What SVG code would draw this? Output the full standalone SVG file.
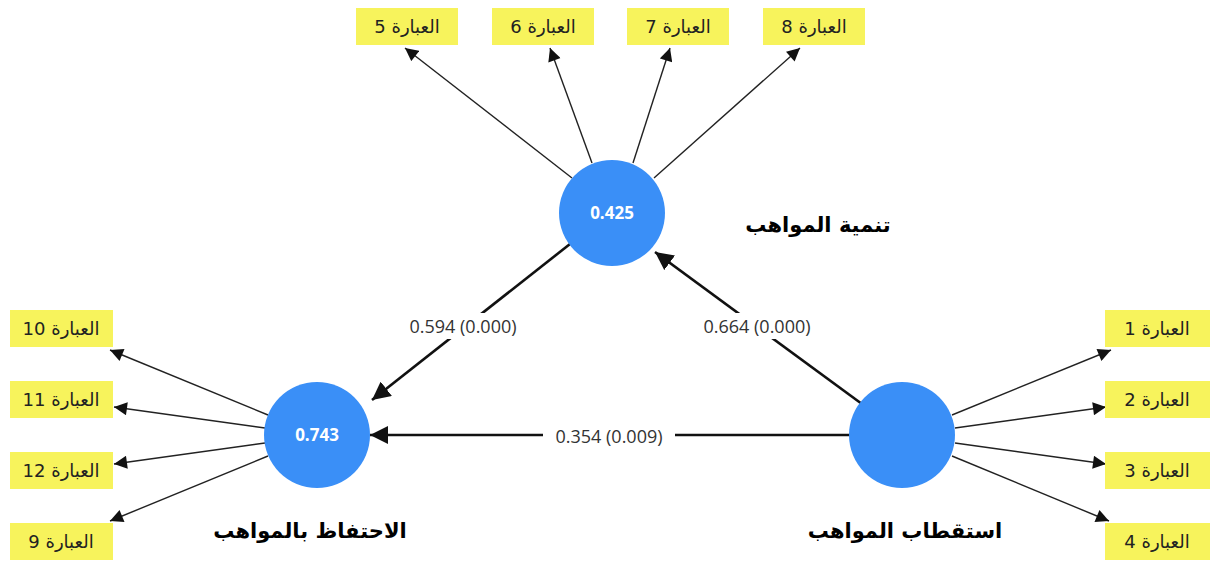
<svg xmlns="http://www.w3.org/2000/svg" width="1213" height="563" viewBox="0 0 1213 563">
<style>
.box rect{fill:#f7f35c}
.box text{font-family:"DejaVu Sans",sans-serif;font-size:18px;fill:#222;text-anchor:middle;direction:rtl}
.lv circle{fill:#3a8ff7}
.lv text.v{font-family:"Open Sans","DejaVu Sans",sans-serif;font-size:17px;font-weight:bold;fill:#fff;text-anchor:middle}
.name{font-family:"DejaVu Sans",sans-serif;font-size:21px;font-weight:bold;fill:#000;text-anchor:middle;direction:rtl}
.thin{stroke:#222;stroke-width:1.4;fill:none;marker-end:url(#ah)}
.thick{stroke:#111;stroke-width:2.6;fill:none;marker-end:url(#ahb)}
.el{font-family:"Open Sans","DejaVu Sans",sans-serif;font-size:18px;fill:#333;text-anchor:middle}
</style>
<defs>
<marker id="ah" viewBox="0 0 10 10" refX="10" refY="5" markerWidth="14" markerHeight="13" markerUnits="userSpaceOnUse" orient="auto"><path d="M0,0 L10,5 L0,10 z" fill="#111"/></marker>
<marker id="ahb" viewBox="0 0 10 10" refX="10" refY="5" markerWidth="7" markerHeight="7" orient="auto"><path d="M0,0 L10,5 L0,10 z" fill="#111"/></marker>
</defs>
<g id="connectors">
<line class="thin" x1="572" y1="178" x2="405" y2="48"/>
<line class="thin" x1="592" y1="163" x2="550" y2="48"/>
<line class="thin" x1="633" y1="163" x2="670" y2="48"/>
<line class="thin" x1="654" y1="178" x2="800" y2="48"/>
<line class="thin" x1="952" y1="415" x2="1111" y2="350"/>
<line class="thin" x1="955" y1="428" x2="1106" y2="407"/>
<line class="thin" x1="955" y1="443" x2="1106" y2="464"/>
<line class="thin" x1="952" y1="456" x2="1109" y2="521"/>
<line class="thin" x1="268" y1="415" x2="110" y2="350"/>
<line class="thin" x1="265" y1="428" x2="114" y2="407"/>
<line class="thin" x1="265" y1="443" x2="114" y2="464"/>
<line class="thin" x1="268" y1="456" x2="110" y2="521"/>
<line class="thick" x1="570" y1="244" x2="372" y2="400"/>
<line class="thick" x1="862" y1="404" x2="655" y2="252"/>
<line class="thick" x1="850" y1="435" x2="370" y2="435"/>
<rect x="398" y="313" width="130" height="26" fill="#fff"/>
<text class="el" x="463" y="333">0.594 (0.000)</text>
<rect x="692" y="313" width="130" height="26" fill="#fff"/>
<text class="el" x="757" y="333">0.664 (0.000)</text>
<rect x="543" y="424" width="132" height="26" fill="#fff"/>
<text class="el" x="609" y="443">0.354 (0.009)</text>
</g>
<g id="n-tanmiya" class="lv"><circle cx="612" cy="213" r="53"/><text class="v" x="612" y="219">0.425</text></g>
<g id="n-ihtifaz" class="lv"><circle cx="317" cy="435" r="53"/><text class="v" x="317" y="441">0.743</text></g>
<g id="n-istiqtab" class="lv"><circle cx="902" cy="435" r="53"/></g>
<text class="name" x="818" y="232">تنمية المواهب</text>
<text class="name" x="310" y="538">الاحتفاظ بالمواهب</text>
<text class="name" x="905" y="538">استقطاب المواهب</text>
<g id="b5" class="box"><rect x="356" y="8" width="102" height="37"/><text x="407" y="33">العبارة 5</text></g>
<g id="b6" class="box"><rect x="492" y="8" width="102" height="37"/><text x="543" y="33">العبارة 6</text></g>
<g id="b7" class="box"><rect x="627" y="8" width="102" height="37"/><text x="678" y="33">العبارة 7</text></g>
<g id="b8" class="box"><rect x="763" y="8" width="102" height="37"/><text x="814" y="33">العبارة 8</text></g>
<g id="b1" class="box"><rect x="1105" y="310" width="105" height="37"/><text x="1157" y="335">العبارة 1</text></g>
<g id="b2" class="box"><rect x="1105" y="381" width="105" height="37"/><text x="1157" y="406">العبارة 2</text></g>
<g id="b3" class="box"><rect x="1105" y="452" width="105" height="37"/><text x="1157" y="477">العبارة 3</text></g>
<g id="b4" class="box"><rect x="1105" y="523" width="105" height="37"/><text x="1157" y="548">العبارة 4</text></g>
<g id="b10" class="box"><rect x="10" y="310" width="103" height="37"/><text x="61" y="335">العبارة 10</text></g>
<g id="b11" class="box"><rect x="10" y="381" width="103" height="37"/><text x="61" y="406">العبارة 11</text></g>
<g id="b12" class="box"><rect x="10" y="452" width="103" height="37"/><text x="61" y="477">العبارة 12</text></g>
<g id="b9" class="box"><rect x="10" y="523" width="103" height="37"/><text x="61" y="548">العبارة 9</text></g>
</svg>
